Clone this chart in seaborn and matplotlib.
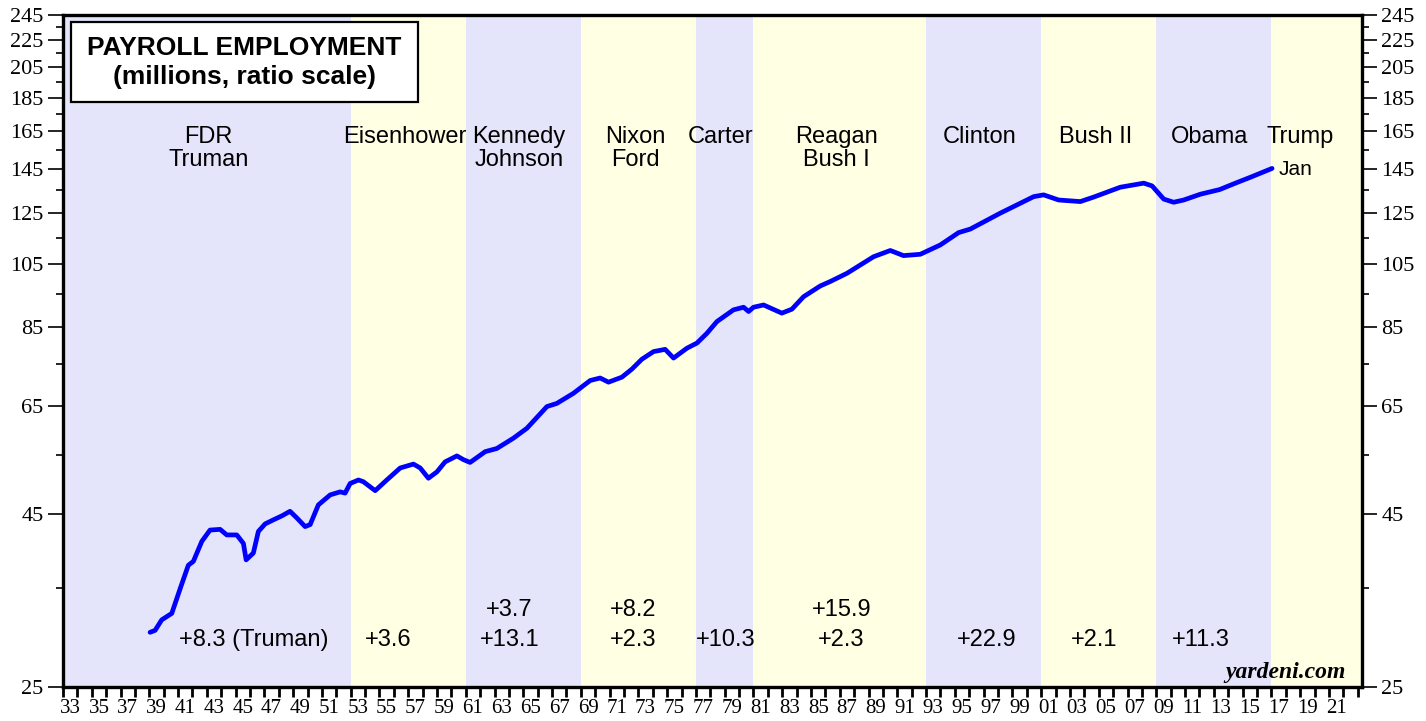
import numpy as np
import pandas as pd
import seaborn as sns
import matplotlib
matplotlib.use("Agg")
import matplotlib.pyplot as plt
from matplotlib.patches import Rectangle
from matplotlib.ticker import FixedLocator, NullFormatter

# payroll employment, millions
years = [1939.05, 1939.40, 1939.86, 1940.56, 1941.14, 1941.71, 1942.06, 1942.65,
         1943.22, 1943.92, 1944.38, 1945.08, 1945.54, 1945.73, 1946.23, 1946.58,
         1947.05, 1947.62, 1948.21, 1948.78, 1949.25, 1949.83, 1950.18, 1950.75,
         1951.57, 1952.26, 1952.61, 1952.96, 1953.54, 1953.88, 1954.70, 1955.51,
         1956.44, 1957.36, 1957.83, 1958.40, 1958.99, 1959.56, 1960.38, 1960.84,
         1961.30, 1962.35, 1963.16, 1964.31, 1965.25, 1966.64, 1967.33, 1968.49,
         1969.65, 1970.34, 1970.92, 1971.85, 1972.55, 1973.24, 1974.05, 1974.86,
         1975.44, 1976.37, 1977.07, 1977.76, 1978.46, 1979.61, 1980.31, 1980.66,
         1981.00, 1981.70, 1982.97, 1983.67, 1984.48, 1985.64, 1986.34, 1987.50,
         1989.35, 1990.51, 1991.43, 1992.60, 1993.99, 1995.26, 1996.07, 1998.16,
         2000.48, 2001.17, 2002.21, 2003.72, 2004.65, 2006.50, 2008.13, 2008.71,
         2009.52, 2010.21, 2010.91, 2012.07, 2013.40, 2014.43, 2015.62, 2017.05]
payroll = [30.1, 30.3, 31.4, 32.1, 34.9, 37.8, 38.3, 41.0,
           42.6, 42.7, 41.9, 41.9, 40.7, 38.5, 39.4, 42.4,
           43.5, 44.1, 44.7, 45.4, 44.4, 43.1, 43.4, 46.4,
           48.0, 48.5, 48.3, 49.9, 50.5, 50.2, 48.7, 50.5,
           52.6, 53.3, 52.6, 50.8, 51.9, 53.7, 54.8, 54.1,
           53.6, 55.6, 56.2, 58.2, 60.2, 64.8, 65.5, 67.8,
           70.8, 71.4, 70.4, 71.6, 73.6, 76.1, 78.1, 78.7,
           76.4, 79.0, 80.4, 83.1, 86.5, 90.0, 90.8, 89.5,
           90.8, 91.5, 89.0, 90.2, 94.1, 97.6, 99.1, 101.9,
           107.8, 110.1, 108.2, 108.7, 112.2, 117.0, 118.4, 125.0,
           132.2, 133.0, 130.7, 130.0, 132.0, 136.5, 138.4, 137.1,
           131.1, 129.7, 130.7, 133.3, 135.4, 138.2, 141.4, 145.5]

# presidential terms (shaded bands)
term_starts = [1933, 1953, 1961, 1969, 1977, 1981, 1993, 2001, 2009, 2017]
term_ends = [1953, 1961, 1969, 1977, 1981, 1993, 2001, 2009, 2017, 2023.3]
term_colors = ["#E4E4FA", "#FFFFE4"] * 5

# president names (two rows) and their x positions
name_x = [1943.1, 1956.75, 1964.7, 1972.8, 1978.7, 1986.75, 1996.75, 2004.75, 2012.7, 2019.0]
name_row1 = ["FDR", "Eisenhower", "Kennedy", "Nixon", "Carter", "Reagan", "Clinton",
             "Bush II", "Obama", "Trump"]
name_row2 = ["Truman", "", "Johnson", "Ford", "", "Bush I", "", "", "", ""]

# job gains (millions) per president, two rows
gain_x = [1946.26, 1955.6, 1964.05, 1972.65, 1979.1, 1987.1, 1997.2, 2004.7, 2012.1]
gain_row1 = ["", "", "+3.7", "+8.2", "", "+15.9", "", "", ""]
gain_row2 = ["+8.3 (Truman)", "+3.6", "+13.1", "+2.3", "+10.3", "+2.3", "+22.9", "+2.1", "+11.3"]

y_major = [25, 45, 65, 85, 105, 125, 145, 165, 185, 205, 225, 245]
y_minor = [35, 55, 75, 95, 115, 135, 155, 175, 195, 215, 235]


def main():
    sns.set_style("ticks")
    plt.rcParams["font.family"] = ["Liberation Sans", "DejaVu Sans"]
    plt.rcParams["text.color"] = "black"
    plt.rcParams["xtick.color"] = "black"
    plt.rcParams["ytick.color"] = "black"

    df = pd.DataFrame({"year": years, "payroll": payroll})

    fig = plt.figure(figsize=(14.26, 7.21), dpi=100)
    ax = fig.add_axes([0.0442, 0.0472, 0.9109, 0.932])

    for s, e, c in zip(term_starts, term_ends, term_colors):
        ax.axvspan(s, e, color=c, lw=0, zorder=0)

    sns.lineplot(data=df, x="year", y="payroll", ax=ax, color="#0000FF",
                 linewidth=3.4, zorder=3)

    ax.set_yscale("log")
    ax.set_xlim(1933, 2023.3)
    ax.set_ylim(25, 245)
    ax.set_xlabel("")
    ax.set_ylabel("")

    # y axis: labels both sides
    ax.yaxis.set_major_locator(FixedLocator(y_major))
    ax.set_yticklabels([str(v) for v in y_major])
    ax.yaxis.set_minor_locator(FixedLocator(y_minor))
    ax.yaxis.set_minor_formatter(NullFormatter())
    ax.tick_params(axis="y", which="major", length=11, width=1.2, pad=3,
                   left=True, right=True, labelleft=True, labelright=True,
                   labelsize=16, labelcolor="black", labelfontfamily="Liberation Serif")
    ax.tick_params(axis="y", which="minor", length=5, width=1.2,
                   left=True, right=True)

    # x axis: tick every year, labels between ticks for odd years
    ax.xaxis.set_major_locator(FixedLocator(np.arange(1933, 2024)))
    ax.xaxis.set_major_formatter(NullFormatter())
    lab_years = list(range(1933, 2022, 2))
    ax.xaxis.set_minor_locator(FixedLocator([y + 0.5 for y in lab_years]))
    ax.set_xticklabels(["%02d" % (y % 100) for y in lab_years], minor=True)
    ax.tick_params(axis="x", which="major", length=7, width=2, direction="out")
    ax.tick_params(axis="x", which="minor", length=0, pad=9, labelsize=15,
                   labelcolor="black", labelfontfamily="Liberation Serif")

    for sp in ax.spines.values():
        sp.set_linewidth(2.4)
        sp.set_color("black")
        sp.set_zorder(5)

    # president names
    for x, t1, t2 in zip(name_x, name_row1, name_row2):
        ax.text(x, 162, t1, ha="center", va="center", fontsize=17)
        if t2:
            ax.text(x, 149.5, t2, ha="center", va="center", fontsize=17)
    ax.text(2017.5, 145, "Jan", ha="left", va="center", fontsize=15)

    # job gains
    for x, t1, t2 in zip(gain_x, gain_row1, gain_row2):
        if t1:
            ax.text(x, 32.5, t1, ha="center", va="center", fontsize=17)
        ax.text(x, 29.3, t2, ha="center", va="center", fontsize=17)

    ax.text(2022.2, 26.3, "yardeni.com", ha="right", va="center", fontsize=17,
            family="Liberation Serif", style="italic", weight="bold")

    # title box
    ax.add_patch(Rectangle((0.006, 0.8705), 0.267, 0.119, transform=ax.transAxes,
                           facecolor="white", edgecolor="black", lw=1.6, zorder=4))
    ax.text(0.1396, 0.951, "PAYROLL EMPLOYMENT", transform=ax.transAxes,
            ha="center", va="center", fontsize=19, weight="bold", zorder=6)
    ax.text(0.1396, 0.908, "(millions, ratio scale)", transform=ax.transAxes,
            ha="center", va="center", fontsize=19, weight="bold", zorder=6)

    fig.savefig("out.png", dpi=100)


if __name__ == "__main__":
    main()
